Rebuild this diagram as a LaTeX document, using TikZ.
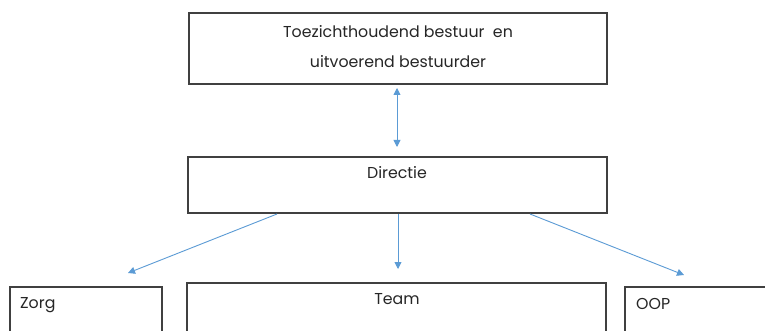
\documentclass[tikz,border=0pt]{standalone}
\usepackage{fontspec}
\setmainfont{Poppins}
\usetikzlibrary{arrows.meta}
\definecolor{arrowblue}{HTML}{5B9BD5}
\definecolor{boxgray}{HTML}{404040}
\begin{document}
\begin{tikzpicture}[x=1pt,y=-1pt,
  box/.style={draw=boxgray,line width=1.1pt},
  lbl/.style={font=\fontsize{15.8}{18}\selectfont,text=black!85,inner sep=0pt},
  conn/.style={draw=arrowblue,line width=0.9pt,-{Triangle[length=7pt,width=7pt]}},
  bconn/.style={draw=arrowblue,line width=0.9pt,{Triangle[length=7pt,width=7pt]}-{Triangle[length=7pt,width=7pt]}}]
\clip (0,0) rectangle (765,331);
\fill[white] (0,0) rectangle (765,331);
\draw[box] (189,13) rectangle (607,84);
\node[lbl] (top1) at (398,32) {Toezichthoudend bestuur~ en};
\node[lbl] (top2) at (398,62) {uitvoerend bestuurder};
\draw[box] (188,157) rectangle (607,213);
\node[lbl] (dir) at (397,173) {Directie};
\draw[box] (10,287) rectangle (162,340);
\node[lbl,anchor=west] (zorg) at (20,305) {Zorg};
\draw[box] (187,283) rectangle (606,340);
\node[lbl] (team) at (397,299) {Team};
\draw[box] (625,287) rectangle (780,340);
\node[lbl,anchor=west] (oop) at (636,304) {OOP};
\coordinate (tb) at (397,88);
\coordinate (dt) at (397,147);
\coordinate (d1) at (277,214);
\coordinate (d2) at (398,214);
\coordinate (d3) at (530,214);
\coordinate (a1) at (128,273);
\coordinate (a2) at (398,269);
\coordinate (a3) at (684,275);
\draw[bconn] (tb) -- (dt);
\draw[conn] (d1) -- (a1);
\draw[conn] (d2) -- (a2);
\draw[conn] (d3) -- (a3);
\end{tikzpicture}
\end{document}
